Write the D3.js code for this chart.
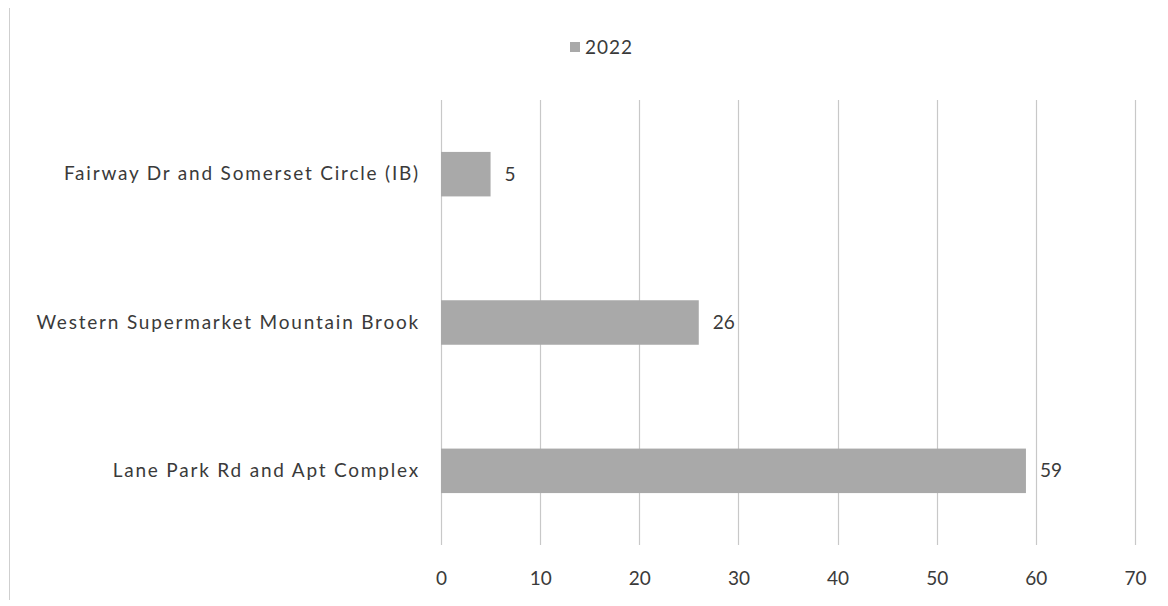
<!DOCTYPE html>
<html>
<head>
<meta charset="utf-8">
<script src="https://cdn.jsdelivr.net/npm/d3@7"></script>
<style>
  html, body { margin: 0; padding: 0; background: #fff; }
  svg { display: block; }
  text { font-family: "Lato", "Open Sans", sans-serif; }
</style>
</head>
<body>
<svg id="chart" width="1168" height="606"></svg>
<script>
// Categories, top to bottom, and their 2022 counts
const categories = [
  "Fairway Dr and Somerset Circle (IB)",
  "Western Supermarket Mountain Brook",
  "Lane Park Rd and Apt Complex"
];
const values2022 = [5, 26, 59];
const xTicks = [0, 10, 20, 30, 40, 50, 60, 70];
const seriesName = "2022";

const svg = d3.select("#chart");
const plot = { left: 441, right: 1135, top: 100, bottom: 545 };
const FONT = 19;
const TEXT_COLOR = "#3a3a3a";
const BAR_COLOR = "#a9a9a9";

const x = d3.scaleLinear().domain([0, 70]).range([plot.left, plot.right]);
const y = d3.scaleBand().domain(categories).range([plot.top, plot.bottom]).paddingInner(0.7).paddingOuter(0.35);

// frame line on the left edge
svg.append("line")
  .attr("x1", 9.5).attr("x2", 9.5).attr("y1", 8).attr("y2", 600)
  .attr("stroke", "#cfcfcf").attr("stroke-width", 1);

// vertical gridlines
svg.append("g")
  .selectAll("line")
  .data(xTicks)
  .join("line")
  .attr("x1", d => Math.round(x(d)) + 0.5)
  .attr("x2", d => Math.round(x(d)) + 0.5)
  .attr("y1", plot.top)
  .attr("y2", plot.bottom)
  .attr("stroke", "#c8c8c8")
  .attr("stroke-width", 1.2);

// x-axis tick labels
const xAxis = d3.axisBottom(x).tickValues(xTicks).tickSize(0).tickPadding(0);
const gx = svg.append("g").attr("transform", `translate(0, ${plot.bottom + 26})`).call(xAxis);
gx.select(".domain").remove();
gx.selectAll("text")
  .attr("font-size", FONT)
  .attr("fill", TEXT_COLOR)
  .attr("dy", "0.71em")
  .style("font-family", "Lato, sans-serif");

// category labels
const yAxis = d3.axisLeft(y).tickSize(0).tickPadding(0);
const gy = svg.append("g").attr("transform", `translate(${plot.left - 21}, 0)`).call(yAxis);
gy.select(".domain").remove();
gy.selectAll("text")
  .attr("font-size", FONT)
  .attr("fill", TEXT_COLOR)
  .style("font-family", "Lato, sans-serif")
  .style("letter-spacing", "1.8px");

// bars
svg.append("g")
  .selectAll("rect")
  .data(values2022)
  .join("rect")
  .attr("x", x(0))
  .attr("y", (d, i) => y(categories[i]))
  .attr("width", d => x(d) - x(0))
  .attr("height", y.bandwidth())
  .attr("fill", BAR_COLOR);

// value labels
svg.append("g")
  .selectAll("text")
  .data(values2022)
  .join("text")
  .attr("x", d => x(d) + 14)
  .attr("y", (d, i) => y(categories[i]) + y.bandwidth() / 2)
  .attr("dy", "0.35em")
  .attr("font-size", FONT)
  .attr("fill", TEXT_COLOR)
  .text(d => d);

// legend
const lg = svg.append("g").attr("transform", "translate(570, 47)");
lg.append("rect").attr("x", 0).attr("y", -5).attr("width", 10).attr("height", 10).attr("fill", BAR_COLOR);
lg.append("text").attr("x", 15).attr("y", 0).attr("dy", "0.35em")
  .attr("font-size", FONT).attr("fill", TEXT_COLOR)
  .style("letter-spacing", "1px").text(seriesName);
</script>
</body>
</html>
